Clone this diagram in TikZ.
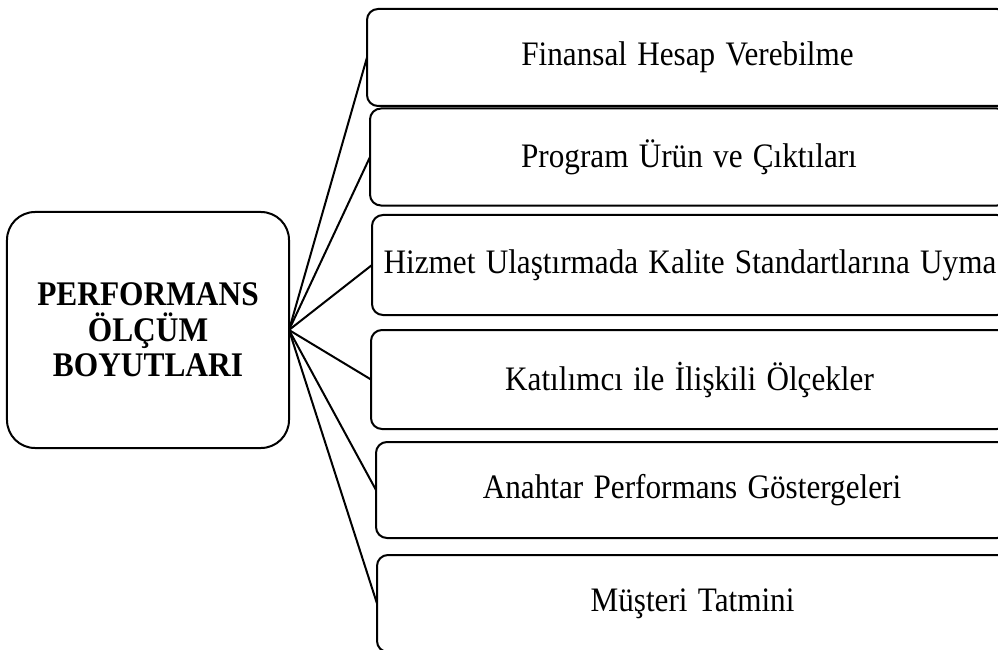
\documentclass[tikz,border=0pt]{standalone}
\usepackage{fontspec}
\setmainfont{Liberation Serif}
% slightly tall lettering with open word spacing
\newcommand\tallword[1]{\scalebox{1}[1.1]{\spaceskip=0.33em plus 0.1em\relax #1}}
\begin{document}
\begin{tikzpicture}[x=1bp,y=-1bp,
  line width=2bp,
  hub/.style={draw, rounded corners=28bp, inner sep=0pt, outer sep=0pt,
    minimum width=282bp, minimum height=236bp, align=center,
    font=\fontsize{31.5}{34.5}\selectfont\bfseries},
  item/.style={draw, rounded corners=11bp, inner sep=0pt, outer sep=0pt,
    minimum height=97bp, font=\fontsize{31.3}{34}\selectfont},
  link/.style={line width=2bp}]
  \useasboundingbox (0,0) rectangle (998,650);
  % central node
  \node[hub] (hub) at (148,330) {\tallword{PERFORMANS}\\[1bp]\tallword{ÖLÇÜM}\\[1bp]\tallword{BOYUTLARI}};
  % dimension boxes (right edges run past the page)
  \node[item, minimum width=641bp] (d1) at (687.5,57.5) {\tallword{Finansal Hesap Verebilme}};
  \node[item, minimum width=638bp] (d2) at (689,157) {\tallword{Program Ürün ve Çıktıları}};
  \node[item, minimum width=636bp, minimum height=100bp] (d3) at (690,265) {\tallword{Hizmet Ulaştırmada Kalite Standartlarına Uyma}};
  \node[item, minimum width=637bp, minimum height=99bp] (d4) at (689.5,379.5) {\tallword{Katılımcı ile İlişkili Ölçekler}};
  \node[item, minimum width=632bp, minimum height=96bp] (d5) at (692,490) {\tallword{Anahtar Performans Göstergeleri}};
  \node[item, minimum width=631bp] (d6) at (692.5,603.5) {\tallword{Müşteri Tatmini}};
  % connectors
  \foreach \d in {d1,d2,d3,d4,d5,d6}
    \draw[link] (hub.east) -- (\d.west);
\end{tikzpicture}
\end{document}
